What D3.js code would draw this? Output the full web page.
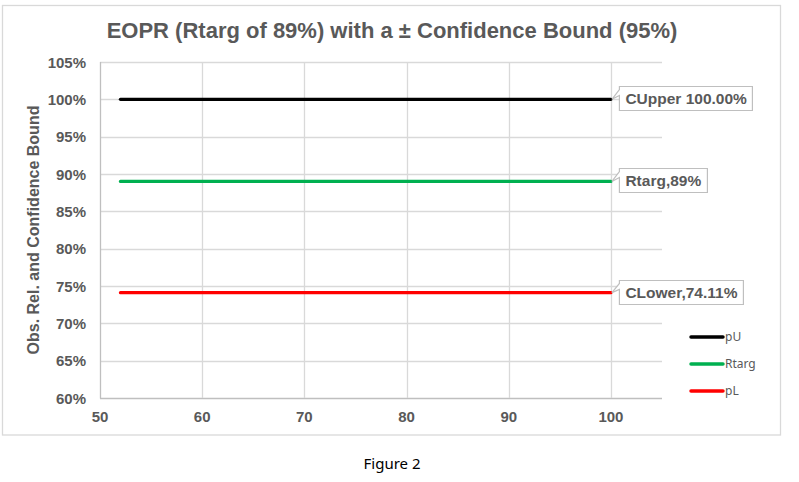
<!DOCTYPE html>
<html>
<head>
<meta charset="utf-8">
<script src="https://cdn.jsdelivr.net/npm/d3@7"></script>
<style>
  html, body { margin: 0; padding: 0; background: #ffffff; }
  svg { display: block; }
</style>
</head>
<body>
<svg id="chart" width="799" height="482"></svg>
<script>
// ---- data ----
const sampleSize = [52, 60, 70, 80, 90, 100];
const pU = [1.00, 1.00, 1.00, 1.00, 1.00, 1.00];
const Rtarg = [0.89, 0.89, 0.89, 0.89, 0.89, 0.89];
const pL = [0.7411, 0.7411, 0.7411, 0.7411, 0.7411, 0.7411];
const seriesNames = ["pU", "Rtarg", "pL"];
const calloutLabels = ["CUpper 100.00%", "Rtarg,89%", "CLower,74.11%"];
const xTicks = [50, 60, 70, 80, 90, 100];
const yTicks = [0.60, 0.65, 0.70, 0.75, 0.80, 0.85, 0.90, 0.95, 1.00, 1.05];
const titleText = "EOPR (Rtarg of 89%) with a ± Confidence Bound (95%)";
const yAxisTitle = "Obs. Rel. and Confidence Bound";
const captionText = "Figure 2";

// ---- styles ----
const colors = {pU: "#000000", Rtarg: "#00b050", pL: "#ff0000"};
const textGray = "#595959";
const gridColor = "#d9d9d9";
const axisColor = "#bfbfbf";
const arial = "'Liberation Sans', Arial, sans-serif";

const svg = d3.select("#chart");

// outer chart border
svg.append("rect")
  .attr("x", 2.5).attr("y", 5.5).attr("width", 778).attr("height", 429.5)
  .attr("fill", "#fff").attr("stroke", gridColor).attr("stroke-width", 1.3);

const plot = {left: 100, right: 662, top: 62, bottom: 398};
const x = d3.scaleLinear().domain([50, 105]).range([plot.left, plot.right]);
const y = d3.scaleLinear().domain([0.60, 1.05]).range([plot.bottom, plot.top]);

// horizontal gridlines
svg.append("g").selectAll("line").data(yTicks).join("line")
  .attr("x1", plot.left).attr("x2", plot.right)
  .attr("y1", d => Math.round(y(d)) + 0.5).attr("y2", d => Math.round(y(d)) + 0.5)
  .attr("stroke", d => d === 0.60 ? axisColor : gridColor).attr("stroke-width", 1.3);

// vertical gridlines
svg.append("g").selectAll("line").data(xTicks.slice(1)).join("line")
  .attr("x1", d => Math.round(x(d)) + 0.5).attr("x2", d => Math.round(x(d)) + 0.5)
  .attr("y1", plot.top).attr("y2", plot.bottom)
  .attr("stroke", gridColor).attr("stroke-width", 1.3);

// left axis line
svg.append("line")
  .attr("x1", plot.left + 0.5).attr("x2", plot.left + 0.5)
  .attr("y1", plot.top).attr("y2", plot.bottom + 0.5)
  .attr("stroke", axisColor).attr("stroke-width", 1.3);

// y tick labels
svg.append("g").selectAll("text").data(yTicks).join("text")
  .attr("x", 86).attr("y", d => y(d) + 5.5)
  .attr("text-anchor", "end")
  .attr("font-family", arial).attr("font-weight", "bold").attr("font-size", 15)
  .attr("fill", textGray)
  .text(d => d3.format(".0%")(d));

// x tick labels
svg.append("g").selectAll("text").data(xTicks).join("text")
  .attr("x", d => x(d)).attr("y", 422)
  .attr("text-anchor", "middle")
  .attr("font-family", arial).attr("font-weight", "bold").attr("font-size", 15)
  .attr("fill", textGray)
  .text(d => d);

// title
svg.append("text")
  .attr("x", 392).attr("y", 38).attr("text-anchor", "middle")
  .attr("font-family", arial).attr("font-weight", "bold").attr("font-size", 22)
  .attr("fill", textGray).text(titleText);

// y axis title
svg.append("text")
  .attr("transform", "translate(39,230) rotate(-90)")
  .attr("text-anchor", "middle")
  .attr("font-family", arial).attr("font-weight", "bold").attr("font-size", 16)
  .attr("fill", textGray).text(yAxisTitle);

// series lines
const seriesData = {pU: pU, Rtarg: Rtarg, pL: pL};
const line = d3.line().x(d => x(d[0])).y(d => y(d[1]));
seriesNames.forEach(name => {
  const pts = sampleSize.map((s, i) => [s, seriesData[name][i]]);
  svg.append("path")
    .attr("d", line(pts))
    .attr("fill", "none").attr("stroke", colors[name]).attr("stroke-width", 3.2)
    .attr("stroke-linecap", "round");
});

// callouts
seriesNames.forEach((name, k) => {
  const vals = seriesData[name];
  const px = x(sampleSize[sampleSize.length - 1]);
  const py = y(vals[vals.length - 1]);
  const g = svg.append("g");
  const t = g.append("text")
    .attr("font-family", arial).attr("font-weight", "bold").attr("font-size", 15.5)
    .attr("fill", textGray).text(calloutLabels[k]);
  const w = t.node().getComputedTextLength();
  const bx = px + 8.5, bh = 24, by = Math.round(py - 13) + 0.5;
  const bw = Math.round(w + 12);
  g.insert("path", "text")
    .attr("d", `M${bx},${by} L${bx + bw},${by} L${bx + bw},${by + bh} L${bx},${by + bh} L${bx},${by + 9} L${px + 1},${py} L${bx},${by + 3} Z`)
    .attr("fill", "#fff").attr("stroke", "#bfbfbf").attr("stroke-width", 1.2);
  t.attr("x", bx + 6).attr("y", by + 17.5);
});

// legend
const legendY = [337, 364, 391];
seriesNames.forEach((name, k) => {
  svg.append("line")
    .attr("x1", 691).attr("x2", 723)
    .attr("y1", legendY[k]).attr("y2", legendY[k])
    .attr("stroke", colors[name]).attr("stroke-width", 3.5).attr("stroke-linecap", "round");
  svg.append("text")
    .attr("x", 725).attr("y", legendY[k] + 4.3)
    .attr("font-family", "'Noto Sans', sans-serif").attr("font-size", 12)
    .attr("fill", textGray).text(name);
});

// caption
svg.append("text")
  .attr("x", 392).attr("y", 469).attr("text-anchor", "middle")
  .attr("font-family", "'Noto Sans', sans-serif").attr("font-size", 15)
  .attr("fill", "#000").text(captionText);
</script>
</body>
</html>
